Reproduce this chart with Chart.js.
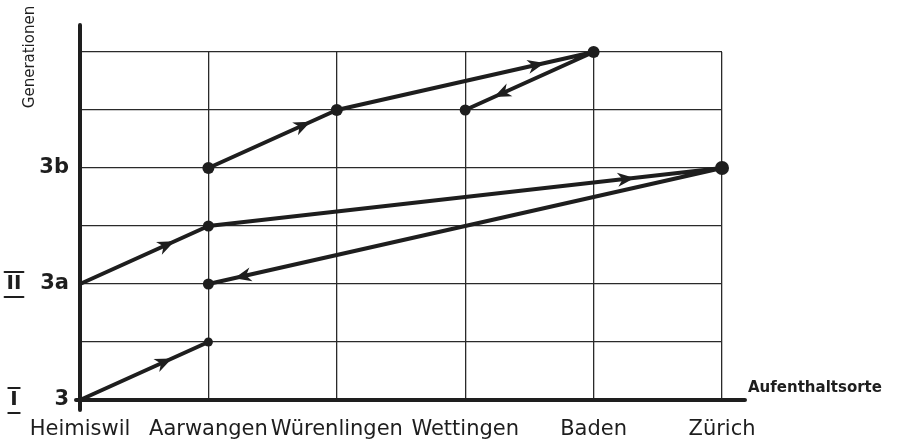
<!DOCTYPE html>
<html>
<head>
<meta charset="utf-8">
<script src="https://cdn.jsdelivr.net/npm/chart.js@4/dist/chart.umd.min.js"></script>
<style>
  html, body { margin: 0; padding: 0; background: #fff; }
  #wrap { width: 913px; height: 446px; }
</style>
</head>
<body>
<div id="wrap"><canvas id="chart"></canvas></div>
<script>
// Aufenthaltsorte (x) und Generationen (y)
const places = ['Heimiswil', 'Aarwangen', 'Würenlingen', 'Wettingen', 'Baden', 'Zürich'];
const genLevels = [0, 2, 4];
const genLabels = ['3', '3a', '3b'];
const romanLevels = [0, 2];
const romanLabels = ['I', 'II'];

// Wege der einzelnen Linien
const pathIPlaces = ['Heimiswil', 'Aarwangen'];
const pathILevels = [0, 1];
const pathIIPlaces = ['Heimiswil', 'Aarwangen', 'Zürich', 'Aarwangen'];
const pathIILevels = [2, 3, 4, 2];
const pathIIIPlaces = ['Aarwangen', 'Würenlingen', 'Baden', 'Wettingen'];
const pathIIILevels = [4, 5, 6, 5];

const ink = '#1e1e1e';

function toPoints(xs, ys) {
  return xs.map((p, i) => ({ x: p, y: ys[i] }));
}

// Pfeilspitzen, Achsen und Beschriftungen von Hand
const sketchPlugin = {
  id: 'sketch',
  afterDatasetsDraw(chart, args, opts) {
    const ctx = chart.ctx;
    const xs = chart.scales.x, ys = chart.scales.y;
    const area = chart.chartArea;
    ctx.save();
    ctx.strokeStyle = ink;
    ctx.fillStyle = ink;
    ctx.lineCap = 'round';

    // dicke Achsen
    ctx.lineWidth = 4;
    ctx.beginPath();
    ctx.moveTo(area.left, area.top - 27);
    ctx.lineTo(area.left, area.bottom + 10);
    ctx.moveTo(area.left - 4, area.bottom);
    ctx.lineTo(area.right + 23, area.bottom);
    ctx.stroke();

    // Pfeile
    chart.data.datasets.forEach((ds, di) => {
      const fr = opts.arrows[di];
      for (let i = 0; i < ds.data.length - 1; i++) {
        const a = ds.data[i], b = ds.data[i + 1];
        const x1 = xs.getPixelForValue(places.indexOf(a.x)), y1 = ys.getPixelForValue(a.y);
        const x2 = xs.getPixelForValue(places.indexOf(b.x)), y2 = ys.getPixelForValue(b.y);
        const t = fr[i];
        const px = x1 + (x2 - x1) * t, py = y1 + (y2 - y1) * t;
        const ang = Math.atan2(y2 - y1, x2 - x1);
        ctx.save();
        ctx.translate(px, py);
        ctx.rotate(ang);
        ctx.beginPath();
        ctx.moveTo(5, 0);
        ctx.lineTo(-12, -7);
        ctx.lineTo(-7, 0);
        ctx.lineTo(-12, 7);
        ctx.closePath();
        ctx.fill();
        ctx.restore();
      }
    });

    // Achsentitel
    ctx.font = '15px "DejaVu Sans"';
    ctx.save();
    ctx.translate(30, 57);
    ctx.rotate(-Math.PI / 2);
    ctx.textAlign = 'center';
    ctx.textBaseline = 'middle';
    ctx.fillText('Generationen', 0, 0);
    ctx.restore();

    ctx.font = 'bold 15px "DejaVu Sans"';
    ctx.textAlign = 'left';
    ctx.textBaseline = 'middle';
    ctx.fillText('Aufenthaltsorte', area.right + 26, area.bottom - 12);

    // römische Ziffern
    ctx.font = 'bold 20px "DejaVu Sans"';
    ctx.textAlign = 'center';
    ctx.lineWidth = 2;
    romanLevels.forEach((lv, i) => {
      const y = ys.getPixelForValue(lv);
      const txt = romanLabels[i];
      ctx.fillText(txt, 14, y);
      const w = ctx.measureText(txt).width / 2 + 2;
      ctx.beginPath();
      ctx.moveTo(14 - w, y - 12);
      ctx.lineTo(14 + w, y - 12);
      ctx.moveTo(14 - w, y + 13);
      ctx.lineTo(14 + w, y + 13);
      ctx.stroke();
    });
    ctx.restore();
  }
};

const lineStyle = {
  borderColor: ink,
  backgroundColor: ink,
  borderWidth: 4,
  borderJoinStyle: 'round',
  borderCapStyle: 'round',
  fill: false,
  tension: 0,
  clip: false,
  pointBorderWidth: 0,
  pointHoverRadius: 0
};

new Chart(document.getElementById('chart'), {
  type: 'line',
  data: {
    labels: places,
    datasets: [
      Object.assign({ label: 'I', data: toPoints(pathIPlaces, pathILevels), pointRadius: [0, 4.5] }, lineStyle),
      Object.assign({ label: 'II', data: toPoints(pathIIPlaces, pathIILevels), pointRadius: [0, 5.5, 7, 5.5] }, lineStyle),
      Object.assign({ label: 'III', data: toPoints(pathIIIPlaces, pathIIILevels), pointRadius: [6, 6, 6, 5.5] }, lineStyle)
    ]
  },
  options: {
    responsive: true,
    maintainAspectRatio: false,
    animation: false,
    layout: { padding: { left: 0, right: 191, top: 52, bottom: 0 } },
    plugins: {
      legend: { display: false },
      tooltip: { enabled: false },
      sketch: { arrows: [[0.68], [0.7, 0.82, 0.94], [0.76, 0.79, 0.74]] }
    },
    scales: {
      x: {
        type: 'category',
        offset: false,
        afterFit(s) { s.height = 46; },
        grid: { color: '#2a2a2a', lineWidth: 1.3, drawTicks: false },
        border: { display: false },
        ticks: {
          autoSkip: false,
          maxRotation: 0,
          padding: 17,
          color: ink,
          font: { family: 'DejaVu Sans', size: 21 }
        }
      },
      y: {
        min: 0,
        max: 6,
        afterFit(s) { s.width = 80; },
        afterBuildTicks(s) { s.ticks = [0, 1, 2, 3, 4, 5, 6].map(v => ({ value: v })); },
        grid: { color: '#2a2a2a', lineWidth: 1.3, drawTicks: false },
        border: { display: false },
        ticks: {
          padding: 11,
          color: ink,
          font: { family: 'DejaVu Sans', size: 21, weight: 'bold' },
          callback(v) {
            const i = genLevels.indexOf(v);
            return i >= 0 ? genLabels[i] : '';
          }
        }
      }
    }
  },
  plugins: [sketchPlugin]
});
</script>
</body>
</html>
